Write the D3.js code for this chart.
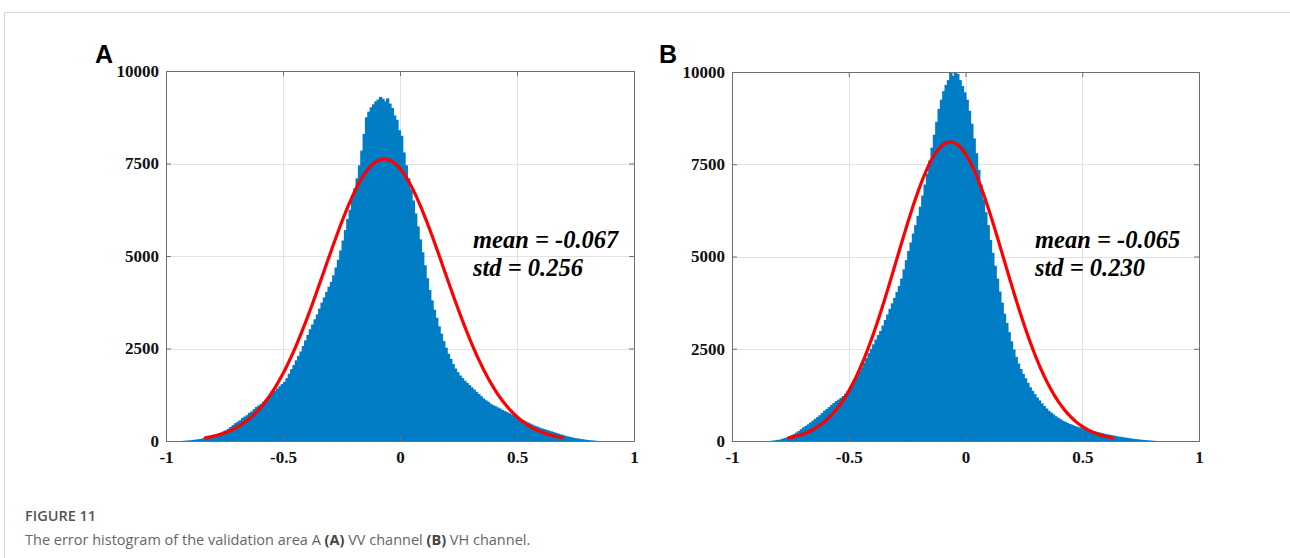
<!DOCTYPE html>
<html>
<head>
<meta charset="utf-8">
<script src="https://cdn.jsdelivr.net/npm/d3@7"></script>
<style>
  html, body { margin: 0; padding: 0; background: #ffffff; }
  svg { display: block; }
</style>
</head>
<body>
<svg id="chart" width="1290" height="558"></svg>
<script>
// ---------------- data ----------------
const panelLabels = ["A", "B"];
const binWidth = 0.01;

// Panel A (VV channel): bin left edges start at -0.94
const binStartA = -0.94;
const countsA = [
  0, 5, 10, 15, 20, 30, 35, 45, 55, 70,
  85, 100, 115, 130, 150, 175, 200, 225, 260, 290,
  330, 380, 430, 480, 520, 560, 620, 660, 700, 760,
  800, 860, 920, 960, 1000, 1060, 1120, 1180, 1250, 1300,
  1350, 1420, 1480, 1540, 1600, 1700, 1820, 1940, 2050, 2180,
  2300, 2420, 2570, 2720, 2870, 3020, 3150, 3290, 3420, 3580,
  3740, 3880, 4030, 4170, 4300, 4480, 4690, 4900, 5150, 5420,
  5700, 6000, 6250, 6560, 6830, 7100, 7450, 7850, 8300, 8750,
  8900, 9020, 9100, 9180, 9230, 9300, 9250, 9180, 9260, 9120,
  9000, 8800, 8680, 8400,
  8250, 7800, 7450, 7100, 6800, 6500, 6150, 5800, 5450, 5100,
  4750, 4400, 4080, 3800, 3550, 3330, 3100, 2900, 2700, 2520,
  2360, 2220, 2080, 1960, 1860, 1770, 1700, 1630, 1570, 1510,
  1450, 1390, 1330, 1270, 1210, 1150, 1100, 1060, 1010, 970,
  940, 910, 880, 840, 810, 780, 750, 720, 690, 650,
  620, 590, 560, 530, 500, 470, 440, 410, 390, 360,
  340, 320, 300, 280, 260, 240, 220, 200, 180, 160,
  140, 125, 110, 95, 80, 70, 60, 50, 40, 32,
  25, 18, 12, 6, 2
];

// Panel B (VH channel): bin left edges start at -0.85
const binStartB = -0.85;
const countsB = [
  0, 5, 10, 20, 30, 40, 60, 80, 100, 130,
  160, 190, 230, 270, 320, 370, 410, 450, 500, 550,
  600, 650, 700, 760, 820, 870, 920, 980, 1030, 1080,
  1120, 1170, 1220, 1280, 1350, 1430, 1520, 1630, 1750, 1880,
  2000, 2120, 2250, 2380, 2500, 2620, 2750, 2870, 2980, 3130,
  3280, 3430, 3580, 3730, 3880, 4040, 4200, 4400, 4650, 4900,
  5150, 5380, 5620, 5850, 6100, 6350, 6650, 6950, 7250, 7600,
  7950, 8300, 8650, 9000, 9250, 9480, 9650, 9780, 9980, 9900,
  10000, 9950, 9780, 9620, 9450,
  9250, 8950, 8600, 8200, 7800, 7350, 6950, 6550, 6200, 5850,
  5450, 5100, 4750, 4400, 4050, 3750, 3450, 3200, 2950, 2700,
  2480, 2280, 2100, 1950, 1820, 1700, 1580, 1460, 1360, 1270,
  1180, 1100, 1020, 950, 880, 820, 770, 720, 670, 630,
  590, 550, 520, 490, 460, 440, 410, 390, 370, 350,
  330, 315, 300, 285, 270, 255, 240, 225, 210, 195,
  180, 170, 155, 145, 130, 120, 110, 100, 90, 80,
  70, 60, 52, 45, 38, 32, 26, 20, 15, 10,
  5, 2
];

// Gaussian fit lines (mean, std as annotated; peak height and drawn range)
const fitMean = [-0.067, -0.065];
const fitStd = [0.256, 0.230];
const fitPeak = [7620, 8100];
const fitFrom = [-0.832, -0.757];
const fitTo = [0.693, 0.629];

const annotMean = ["mean = -0.067", "mean = -0.065"];
const annotStd = ["std = 0.256", "std = 0.230"];

const xTicks = [-1, -0.5, 0, 0.5, 1];
const xTickLabels = ["-1", "-0.5", "0", "0.5", "1"];
const yTicks = [0, 2500, 5000, 7500, 10000];
const yTickLabels = ["0", "2500", "5000", "7500", "10000"];

const figureTitle = "FIGURE 11";
const captionParts = [
  {t: "The error histogram of the validation area A ", b: false},
  {t: "(A)", b: true},
  {t: " VV channel ", b: false},
  {t: "(B)", b: true},
  {t: " VH channel.", b: false}
];

// ---------------- layout ----------------
const svg = d3.select("#chart");
const frames = [
  {left: 166, right: 634, top: 71, bottom: 441, labelX: 95, labelY: 63, annX: 473, annY: 248},
  {left: 732, right: 1199, top: 72, bottom: 441, labelX: 659, labelY: 63, annX: 1035, annY: 248}
];
const barColor = "#007dc4";
const serif = "'Liberation Serif', 'Times New Roman', serif";

// outer figure border
svg.append("line").attr("x1", 4.5).attr("x2", 1290).attr("y1", 12.5).attr("y2", 12.5)
  .attr("stroke", "#d4d4d4").attr("stroke-width", 1);
svg.append("line").attr("x1", 4.5).attr("x2", 4.5).attr("y1", 12.5).attr("y2", 558)
  .attr("stroke", "#d4d4d4").attr("stroke-width", 1);

const allStarts = [binStartA, binStartB];
const allCounts = [countsA, countsB];

frames.forEach((f, p) => {
  const x = d3.scaleLinear().domain([-1, 1]).range([f.left, f.right]);
  const y = d3.scaleLinear().domain([0, 10000]).range([f.bottom, f.top]);
  const g = svg.append("g");

  // grid
  g.selectAll(".vgrid").data(xTicks.slice(1, -1)).enter().append("line")
    .attr("x1", d => Math.round(x(d)) + 0.5).attr("x2", d => Math.round(x(d)) + 0.5)
    .attr("y1", f.top).attr("y2", f.bottom)
    .attr("stroke", "#e2e2e2").attr("stroke-width", 1);
  g.selectAll(".hgrid").data(yTicks.slice(1, -1)).enter().append("line")
    .attr("y1", d => Math.round(y(d)) + 0.5).attr("y2", d => Math.round(y(d)) + 0.5)
    .attr("x1", f.left).attr("x2", f.right)
    .attr("stroke", "#e2e2e2").attr("stroke-width", 1);

  // histogram bars
  const start = allStarts[p];
  const bins = allCounts[p].map((v, i) => ({x0: start + i * binWidth, v: v}));
  g.selectAll(".bar").data(bins).enter().append("rect")
    .attr("x", d => x(d.x0))
    .attr("width", d => x(d.x0 + binWidth) - x(d.x0) + 1)
    .attr("y", d => y(d.v))
    .attr("height", d => y(0) - y(d.v))
    .attr("fill", barColor);

  // gaussian fit line
  const pts = d3.range(0, 301).map(k => {
    const xv = fitFrom[p] + (fitTo[p] - fitFrom[p]) * k / 300;
    const z = (xv - fitMean[p]) / fitStd[p];
    return [xv, fitPeak[p] * Math.exp(-0.5 * z * z)];
  });
  g.append("path").datum(pts)
    .attr("d", d3.line().x(d => x(d[0])).y(d => y(d[1])).curve(d3.curveBasis))
    .attr("fill", "none").attr("stroke", "#ff0000").attr("stroke-width", 3.2)
    .attr("stroke-linecap", "round");

  // axes (box with inward ticks on all sides)
  const axisStyle = sel => {
    sel.select(".domain").attr("stroke", "#6e6e6e");
    sel.selectAll(".tick line").attr("stroke", "#6e6e6e");
    sel.selectAll("text").attr("font-family", serif).attr("font-weight", "bold")
      .attr("font-size", 17).attr("fill", "#111");
  };
  const xb = g.append("g").attr("transform", `translate(0,${f.bottom})`)
    .call(d3.axisBottom(x).tickValues(xTicks).tickFormat((d, i) => xTickLabels[i])
      .tickSizeInner(-5).tickSizeOuter(0).tickPadding(10));
  axisStyle(xb);
  const xt = g.append("g").attr("transform", `translate(0,${f.top})`)
    .call(d3.axisTop(x).tickValues(xTicks).tickFormat("").tickSizeInner(-5).tickSizeOuter(0));
  axisStyle(xt);
  const yl = g.append("g").attr("transform", `translate(${f.left},0)`)
    .call(d3.axisLeft(y).tickValues(yTicks).tickFormat((d, i) => yTickLabels[i])
      .tickSizeInner(-5).tickSizeOuter(0).tickPadding(7));
  axisStyle(yl);
  const yr = g.append("g").attr("transform", `translate(${f.right},0)`)
    .call(d3.axisRight(y).tickValues(yTicks).tickFormat("").tickSizeInner(-5).tickSizeOuter(0));
  axisStyle(yr);

  // annotation
  const ann = g.append("text").attr("font-family", serif).attr("font-weight", "bold")
    .attr("font-style", "italic").attr("font-size", 24.5).attr("fill", "#000");
  ann.append("tspan").attr("x", f.annX).attr("y", f.annY).text(annotMean[p]);
  ann.append("tspan").attr("x", f.annX).attr("y", f.annY + 28).text(annotStd[p]);

  // panel label
  svg.append("text").attr("x", f.labelX).attr("y", f.labelY)
    .attr("font-family", "'Liberation Sans', Arial, sans-serif").attr("font-weight", "bold")
    .attr("font-size", 25).attr("fill", "#000").text(panelLabels[p]);
});

// caption
svg.append("text").attr("x", 25).attr("y", 521)
  .attr("font-family", "'Open Sans', 'Noto Sans', sans-serif").attr("font-weight", 600)
  .attr("font-size", 14.5).attr("fill", "#555").text(figureTitle);
const cap = svg.append("text").attr("x", 25).attr("y", 545)
  .attr("font-family", "'Open Sans', 'Noto Sans', sans-serif")
  .attr("font-size", 14.5).attr("fill", "#666");
captionParts.forEach(c => {
  cap.append("tspan").attr("font-weight", c.b ? 700 : 400)
    .attr("fill", c.b ? "#444" : "#666").text(c.t);
});
</script>
</body>
</html>
